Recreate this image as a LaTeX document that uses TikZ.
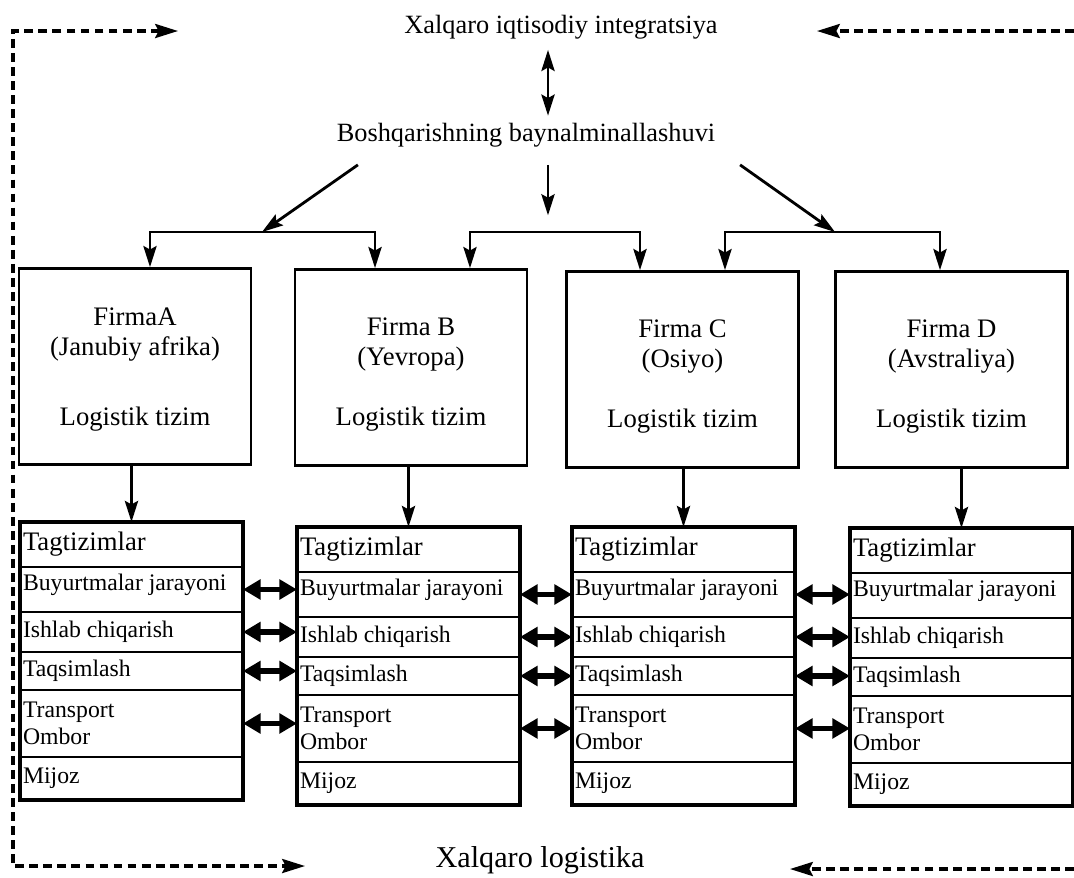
\documentclass[tikz,border=0pt]{standalone}
\usepackage{fontspec}
\setmainfont{Liberation Serif}
\usetikzlibrary{arrows.meta,calc}
\tikzset{%
        >={Stealth[length=12pt,width=7.5pt,inset=2pt]},
        conn/.style = {line width=1.6pt},
        dbl/.style = {{Triangle[length=10pt,width=11pt]}-{Triangle[length=10pt,width=11pt]}, line width=3pt},
        frame/.style = {dash pattern=on 5pt off 3pt, line width=1.8pt,
            >={Stealth[length=13pt,width=8pt,inset=2pt]}},
        title/.style = {font=\fontsize{15}{17}\selectfont, inner sep=2pt},
        firm/.style = {draw, line width=1.6pt, minimum width=4.64cm, minimum height=3.92cm,
            align=flush center, font=\fontsize{15.2}{17}\selectfont},
        tag/.style = {draw, line width=1.4pt, anchor=north west, outer sep=0pt, text width=4.34cm,
            inner xsep=0.06cm, inner ysep=0pt, align=flush left, font=\fontsize{13.5}{15}\selectfont}
}
% stack of subsystems: #1 name prefix, #2 left x, #3 top y
\newcommand{\subsys}[3]{%
    \node[tag, minimum height=0.9cm, font=\fontsize{15.2}{17}\selectfont] (#10) at (#2, #3) {Tagtizimlar};
    \node[tag, minimum height=0.9cm, text depth=0.3cm] (#11) at (#10.south west) {Buyurtmalar jarayoni};
    \node[tag, minimum height=0.8cm] (#12) at (#11.south west) {Ishlab chiqarish};
    \node[tag, minimum height=0.76cm] (#13) at (#12.south west) {Taqsimlash};
    \node[tag, minimum height=1.34cm] (#14) at (#13.south west) {Transport\\Ombor};
    \node[tag, minimum height=0.86cm] (#15) at (#14.south west) {Mijoz};
    \draw[line width=2.2pt] (#10.north west) rectangle (#15.south east);
}
\begin{document}
\begin{tikzpicture}[x=0.02cm, y=-0.02cm]
    \useasboundingbox (0,0) rectangle (1074,877);
    \node[title] (intg) at (561,27) {Xalqaro iqtisodiy integratsiya};
    \node[title] (bosh) at (526,135) {Boshqarishning baynalminallashuvi};
    \node[title, font=\fontsize{17.2}{19}\selectfont] (xlog) at (540,860) {Xalqaro logistika};
    \coordinate (axis) at (548,0);
    \coordinate (jab) at (262,232);
    \coordinate (jbc) at (555,232);
    \coordinate (jcd) at (835,232);

    \node[firm] (fa) at (135,366.5) {\rule{0pt}{13.6pt}FirmaA\\(Janubiy afrika)\\[22.7pt]Logistik tizim};
    \node[firm] (fb) at (411,367.5) {\rule{0pt}{18pt}Firma B\\(Yevropa)\\[17pt]Logistik tizim};
    \node[firm] (fc) at (682.5,369.5) {\rule{0pt}{18pt}Firma C\\(Osiyo)\\[17pt]Logistik tizim};
    \node[firm] (fd) at (951.5,369.5) {\rule{0pt}{18pt}Firma D\\(Avstraliya)\\[17pt]Logistik tizim};

    \subsys{a}{20}{522}
    \subsys{b}{297}{527}
    \subsys{c}{572}{527}
    \subsys{d}{850}{528}

    % top part
    \draw[conn, <->, shorten <=4pt, shorten >=2pt] (intg.south -| axis) -- (bosh.north -| axis);
    \draw[conn, ->, shorten <=8pt, shorten >=9.5pt] (bosh.south -| axis) -- (jbc -| axis);
    \draw[conn, ->] ([xshift=0.5cm,yshift=-0.28cm]bosh.south west) -- (jab);
    \draw[conn, ->] ([xshift=0.42cm,yshift=-0.28cm]bosh.south east) -- (jcd);
    \draw[conn, ->] (jab) -| ([xshift=0.3cm]fa.north);
    \draw[conn, ->] (jab) -| ([xshift=-0.72cm]fb.north);
    \draw[conn, ->] (jbc) -| ([xshift=1.18cm]fb.north);
    \draw[conn, ->] (jbc) -| ([xshift=-0.85cm]fc.north);
    \draw[conn, ->] (jcd) -| ([xshift=0.85cm]fc.north);
    \draw[conn, ->] (jcd) -| ([xshift=-0.23cm]fd.north);

    % firm to subsystems
    \draw[conn, ->] (fa.south -| a0.north) -- (a0.north);
    \draw[conn, ->] (fb.south -| b0.north) -- (b0.north);
    \draw[conn, ->] (fc.south -| c0.north) -- (c0.north);
    \draw[conn, ->] (fd.south -| d0.north) -- (d0.north);

    % links between subsystems
    \draw[dbl] (a1.east) -- (a1.east -| b1.west);
    \draw[dbl] (a2.east) -- (a2.east -| b2.west);
    \draw[dbl] (a3.east) -- (a3.east -| b3.west);
    \draw[dbl] (a4.east) -- (a4.east -| b4.west);
    \draw[dbl] (b1.east) -- (b1.east -| c1.west);
    \draw[dbl] (b2.east) -- (b2.east -| c2.west);
    \draw[dbl] (b3.east) -- (b3.east -| c3.west);
    \draw[dbl] (b4.east) -- (b4.east -| c4.west);
    \draw[dbl] (c1.east) -- (c1.east -| d1.west);
    \draw[dbl] (c2.east) -- (c2.east -| d2.west);
    \draw[dbl] (c3.east) -- (c3.east -| d3.west);
    \draw[dbl] (c4.east) -- (c4.east -| d4.west);

    % dashed frame
    \coordinate (tl) at (13,31);
    \coordinate (bl) at (13,866);
    \coordinate (tltip) at (178,31);
    \coordinate (bltip) at (305,866);
    \coordinate (trend) at (1074,31);
    \coordinate (trtip) at (817,31);
    \coordinate (brend) at (1074,869);
    \coordinate (brtip) at (790,869);
    \draw[frame, <->] (tltip) -- (tl) -- (bl) -- (bltip);
    \draw[frame, ->] (trend) -- (trtip);
    \draw[frame, ->] (brend) -- (brtip);
\end{tikzpicture}
\end{document}
